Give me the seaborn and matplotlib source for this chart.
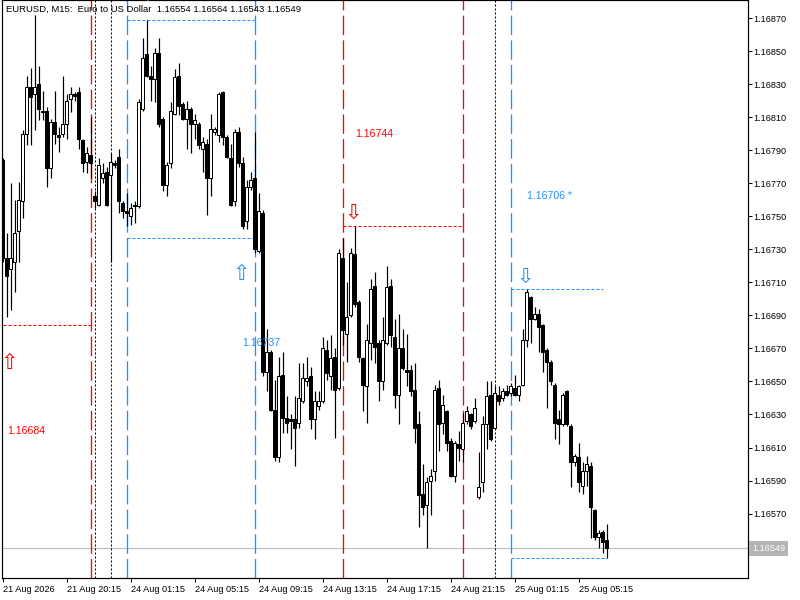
import matplotlib
matplotlib.use("Agg")
import matplotlib.pyplot as plt
import numpy as np
import pandas as pd
import seaborn as sns

# EURUSD M15 candles (bar index 0 = 21 Aug 16:15)
opens = [
    1.16784, 1.16725, 1.16718, 1.16722, 1.16741, 1.16759, 1.16800, 1.16828, 1.16824, 1.16830,
    1.16814, 1.16814, 1.16779, 1.16807, 1.16799, 1.16800, 1.16806, 1.16821, 1.16824, 1.16825,
    1.16796, 1.16783, 1.16787, 1.16762, 1.16757, 1.16773, 1.16777, 1.16775, 1.16782, 1.16786,
    1.16758, 1.16753, 1.16750, 1.16757, 1.16756, 1.16815, 1.16848, 1.16835, 1.16833, 1.16849,
    1.16809, 1.16769, 1.16782, 1.16812, 1.16835, 1.16818, 1.16809, 1.16815, 1.16806, 1.16806,
    1.16791, 1.16794, 1.16773, 1.16801, 1.16799, 1.16825, 1.16798, 1.16785, 1.16759, 1.16801,
    1.16782, 1.16747, 1.16768, 1.16773, 1.16729, 1.16752, 1.16656, 1.16668, 1.16633, 1.16604,
    1.16654, 1.16628, 1.16627, 1.16627, 1.16625, 1.16638, 1.16650, 1.16653, 1.16627, 1.16635,
    1.16638, 1.16669, 1.16653, 1.16665, 1.16646, 1.16725, 1.16679, 1.16690, 1.16727, 1.16698,
    1.16664, 1.16647, 1.16673, 1.16708, 1.16673, 1.16650, 1.16673, 1.16708, 1.16677, 1.16642,
    1.16670, 1.16657, 1.16657, 1.16645, 1.16624, 1.16582, 1.16575, 1.16590, 1.16596, 1.16646,
    1.16625, 1.16632, 1.16614, 1.16593, 1.16612, 1.16609, 1.16626, 1.16630, 1.16626, 1.16580,
    1.16589, 1.16624, 1.16642, 1.16622, 1.16642, 1.16640, 1.16644, 1.16643, 1.16646, 1.16642,
    1.16648, 1.16675, 1.16701, 1.16688, 1.16691, 1.16684, 1.16669, 1.16662, 1.16648, 1.16627,
    1.16624, 1.16644, 1.16623, 1.16601, 1.16604, 1.16587, 1.16596, 1.16599, 1.16572, 1.16556,
    1.16559, 1.16554,
]
highs = [
    1.16785, 1.16740, 1.16770, 1.16760, 1.16771, 1.16802, 1.16835, 1.16840, 1.16872, 1.16841,
    1.16826, 1.16816, 1.16809, 1.16826, 1.16804, 1.16835, 1.16824, 1.16828, 1.16825, 1.16828,
    1.16797, 1.16792, 1.16810, 1.16765, 1.16785, 1.16782, 1.16780, 1.16788, 1.16784, 1.16791,
    1.16759, 1.16764, 1.16758, 1.16759, 1.16821, 1.16858, 1.16869, 1.16841, 1.16852, 1.16858,
    1.16810, 1.16783, 1.16819, 1.16839, 1.16843, 1.16819, 1.16820, 1.16816, 1.16812, 1.16807,
    1.16798, 1.16797, 1.16812, 1.16804, 1.16825, 1.16826, 1.16799, 1.16794, 1.16803, 1.16804,
    1.16786, 1.16772, 1.16777, 1.16801, 1.16764, 1.16754, 1.16682, 1.16669, 1.16651, 1.16665,
    1.16668, 1.16641, 1.16630, 1.16641, 1.16661, 1.16661, 1.16665, 1.16659, 1.16644, 1.16644,
    1.16677, 1.16675, 1.16678, 1.16670, 1.16730, 1.16737, 1.16710, 1.16731, 1.16744, 1.16699,
    1.16665, 1.16685, 1.16712, 1.16716, 1.16675, 1.16689, 1.16720, 1.16712, 1.16688, 1.16691,
    1.16682, 1.16679, 1.16660, 1.16661, 1.16632, 1.16600, 1.16592, 1.16597, 1.16648, 1.16651,
    1.16642, 1.16633, 1.16616, 1.16614, 1.16620, 1.16631, 1.16635, 1.16631, 1.16640, 1.16607,
    1.16629, 1.16650, 1.16650, 1.16647, 1.16647, 1.16646, 1.16648, 1.16649, 1.16654, 1.16648,
    1.16682, 1.16706, 1.16702, 1.16695, 1.16694, 1.16685, 1.16670, 1.16663, 1.16649, 1.16633,
    1.16643, 1.16645, 1.16624, 1.16606, 1.16613, 1.16601, 1.16605, 1.16601, 1.16573, 1.16560,
    1.16560, 1.16564,
]
lows = [
    1.16722, 1.16689, 1.16693, 1.16704, 1.16722, 1.16749, 1.16793, 1.16793, 1.16802, 1.16808,
    1.16808, 1.16768, 1.16773, 1.16794, 1.16789, 1.16798, 1.16797, 1.16813, 1.16820, 1.16791,
    1.16777, 1.16776, 1.16773, 1.16755, 1.16756, 1.16770, 1.16756, 1.16722, 1.16779, 1.16752,
    1.16749, 1.16744, 1.16745, 1.16746, 1.16755, 1.16814, 1.16834, 1.16820, 1.16819, 1.16804,
    1.16765, 1.16762, 1.16779, 1.16811, 1.16811, 1.16808, 1.16791, 1.16788, 1.16797, 1.16791,
    1.16777, 1.16751, 1.16762, 1.16799, 1.16795, 1.16793, 1.16785, 1.16756, 1.16756, 1.16780,
    1.16742, 1.16742, 1.16766, 1.16728, 1.16728, 1.16653, 1.16644, 1.16632, 1.16602, 1.16601,
    1.16619, 1.16619, 1.16609, 1.16599, 1.16622, 1.16637, 1.16647, 1.16621, 1.16615, 1.16633,
    1.16637, 1.16651, 1.16645, 1.16616, 1.16645, 1.16672, 1.16662, 1.16689, 1.16695, 1.16662,
    1.16632, 1.16625, 1.16663, 1.16661, 1.16638, 1.16645, 1.16672, 1.16671, 1.16634, 1.16624,
    1.16657, 1.16647, 1.16641, 1.16613, 1.16562, 1.16569, 1.16549, 1.16569, 1.16590, 1.16608,
    1.16618, 1.16608, 1.16592, 1.16589, 1.16602, 1.16601, 1.16624, 1.16621, 1.16625, 1.16579,
    1.16583, 1.16609, 1.16614, 1.16621, 1.16636, 1.16638, 1.16641, 1.16641, 1.16641, 1.16638,
    1.16647, 1.16671, 1.16673, 1.16687, 1.16668, 1.16656, 1.16634, 1.16648, 1.16615, 1.16612,
    1.16623, 1.16623, 1.16586, 1.16599, 1.16583, 1.16582, 1.16587, 1.16555, 1.16554, 1.16549,
    1.16546, 1.16543,
]
closes = [
    1.16725, 1.16714, 1.16725, 1.16740, 1.16760, 1.16800, 1.16828, 1.16822, 1.16828, 1.16815,
    1.16813, 1.16779, 1.16807, 1.16800, 1.16798, 1.16806, 1.16820, 1.16824, 1.16823, 1.16797,
    1.16782, 1.16788, 1.16782, 1.16759, 1.16781, 1.16776, 1.16757, 1.16783, 1.16781, 1.16759,
    1.16753, 1.16752, 1.16755, 1.16756, 1.16819, 1.16846, 1.16835, 1.16833, 1.16849, 1.16806,
    1.16769, 1.16781, 1.16814, 1.16834, 1.16817, 1.16809, 1.16815, 1.16806, 1.16808, 1.16793,
    1.16795, 1.16773, 1.16803, 1.16803, 1.16824, 1.16798, 1.16786, 1.16757, 1.16801, 1.16782,
    1.16744, 1.16768, 1.16772, 1.16730, 1.16753, 1.16656, 1.16668, 1.16633, 1.16604, 1.16653,
    1.16628, 1.16625, 1.16626, 1.16622, 1.16640, 1.16652, 1.16652, 1.16627, 1.16638, 1.16638,
    1.16670, 1.16655, 1.16664, 1.16645, 1.16728, 1.16681, 1.16689, 1.16728, 1.16697, 1.16665,
    1.16648, 1.16675, 1.16706, 1.16671, 1.16650, 1.16675, 1.16707, 1.16678, 1.16642, 1.16670,
    1.16658, 1.16656, 1.16644, 1.16622, 1.16581, 1.16574, 1.16589, 1.16593, 1.16645, 1.16624,
    1.16636, 1.16613, 1.16593, 1.16613, 1.16610, 1.16625, 1.16632, 1.16623, 1.16634, 1.16586,
    1.16624, 1.16641, 1.16615, 1.16643, 1.16638, 1.16644, 1.16642, 1.16647, 1.16642, 1.16647,
    1.16675, 1.16704, 1.16688, 1.16691, 1.16683, 1.16668, 1.16662, 1.16650, 1.16625, 1.16624,
    1.16642, 1.16624, 1.16601, 1.16605, 1.16589, 1.16596, 1.16600, 1.16574, 1.16556, 1.16558,
    1.16553, 1.16549,
]

# time axis labels (every 16 bars)
tick_bars = [0, 16, 32, 48, 64, 80, 96, 112, 128, 144]
tick_labels = ["21 Aug 2026", "21 Aug 20:15", "24 Aug 01:15", "24 Aug 05:15",
               "24 Aug 09:15", "24 Aug 13:15", "24 Aug 17:15", "24 Aug 21:15",
               "25 Aug 01:15", "25 Aug 05:15"]
price_ticks = [1.16570, 1.16590, 1.16610, 1.16630, 1.16650, 1.16670, 1.16690, 1.16710,
               1.16730, 1.16750, 1.16770, 1.16790, 1.16810, 1.16830, 1.16850, 1.16870]

# session markers
vline_bars = [22, 23, 27, 31, 63, 85, 115, 123, 127]
vline_kinds = ["red", "dot", "dot", "blue", "blue", "red", "red", "dot", "blue"]

# level segments
seg_levels = [1.16684, 1.16869, 1.16737, 1.16744, 1.16706, 1.16543]
seg_start = [0, 31, 31, 85, 127, 127]
seg_end = [22, 63, 63, 115, 150, 151]
seg_kinds = ["red", "blue", "blue", "red", "blue", "blue"]

# text labels and arrows: (bar, price, text, kind)
level_labels = [(1.1, 1.16620, "1.16684", "red"), (59.9, 1.16673, "1.16737", "blue"),
                (88.1, 1.16800, "1.16744", "red"), (131.1, 1.16762, "1.16706 *", "blue")]
arrows = [(1.7, 1.16662, "\u21e7", "red"), (59.6, 1.16716, "\u21e7", "blue"),
          (87.6, 1.16753, "\u21e9", "red"), (130.6, 1.16714, "\u21e9", "blue"),
          (106.1, 1.16524, "\u21e7", "red"), (36.2, 1.16885, "\u21e9", "blue")]

bid = 1.16549
header = "EURUSD, M15:  Euro to US Dollar  1.16554 1.16564 1.16543 1.16549"

RED = "#ff0000"
BLUE = "#1e90ff"
colors = {"red": RED, "blue": BLUE, "dot": "black"}

sns.set_theme(style="white")
plt.rcParams["font.family"] = ["Liberation Sans", "DejaVu Sans"]

df = pd.DataFrame({"open": opens, "high": highs, "low": lows, "close": closes})
df["bar"] = np.arange(len(df))
up = df["close"] >= df["open"]

fig = plt.figure(figsize=(8, 6), dpi=100)
ax = fig.add_axes([2 / 800, 22 / 600, 746 / 800, 578 / 600])
ax.set_facecolor("white")

px = 0.72  # one pixel in points
for b, k in zip(vline_bars, vline_kinds):
    ls = (0, (2, 2)) if k == "dot" else (0, (15, 4))
    ax.axvline(b, color=colors[k], lw=px * 1.3 if k != "dot" else px, linestyle=ls, zorder=1)

for lvl, s, e, k in zip(seg_levels, seg_start, seg_end, seg_kinds):
    ax.hlines(lvl, s, e, colors=colors[k], lw=px, linestyles=[(0, (3, 2))], zorder=1)

ax.axhline(bid, color="#c0c0c0", lw=px * 1.2, zorder=0.5)

# candles
ax.vlines(df["bar"], df["low"], df["high"], color="black", lw=px * 1.2, zorder=2)
w = 0.62
ax.bar(df.loc[up, "bar"], df.loc[up, "close"] - df.loc[up, "open"], bottom=df.loc[up, "open"],
       width=w, facecolor="white", edgecolor="black", linewidth=px, zorder=3)
ax.bar(df.loc[~up, "bar"], df.loc[~up, "close"] - df.loc[~up, "open"], bottom=df.loc[~up, "open"],
       width=w, facecolor="black", edgecolor="black", linewidth=px, zorder=3)

for x, y, t, k in level_labels:
    ax.text(x, y, t, color=colors[k], fontsize=7.6, ha="left", va="center", zorder=4)
for x, y, t, k in arrows:
    ax.text(x, y, t, color=colors[k], fontsize=15, ha="center", va="center_baseline",
            zorder=4, clip_on=True)

ax.text(0.006, 0.991, header, transform=ax.transAxes, fontsize=6.8, ha="left", va="top",
        color="black", zorder=5)

# price scale
px_per_unit = 33.04 / 0.0002
ax.set_ylim(1.16870 - 560 / px_per_unit, 1.16870 + 18 / px_per_unit)
ax.set_xlim(-0.15, 186.35)
ax.yaxis.tick_right()
ax.set_yticks(price_ticks)
ax.set_yticklabels([f"{p:.5f}" for p in price_ticks])
ax.set_xticks(tick_bars)
ax.set_xticklabels(tick_labels, ha="left")
ax.tick_params(axis="both", direction="out", length=3, width=px, color="black",
               labelsize=6.6, labelcolor="black", pad=2)
ax.tick_params(axis="y", right=True, left=False, length=2.9, pad=0.6)
ax.tick_params(axis="x", bottom=True)
for sp in ax.spines.values():
    sp.set_visible(True)
    sp.set_color("black")
    sp.set_linewidth(px * 1.2)

ax.annotate(f"{bid:.5f}", xy=(1.0, bid), xycoords=("axes fraction", "data"),
            xytext=(3, 0), textcoords="offset points", fontsize=6.6, color="white",
            ha="left", va="center", annotation_clip=False,
            bbox=dict(boxstyle="square,pad=0.3", fc="#b4b4b4", ec="none"))

ax.grid(False)
fig.savefig("out.png", dpi=100, facecolor="white")
plt.close(fig)
